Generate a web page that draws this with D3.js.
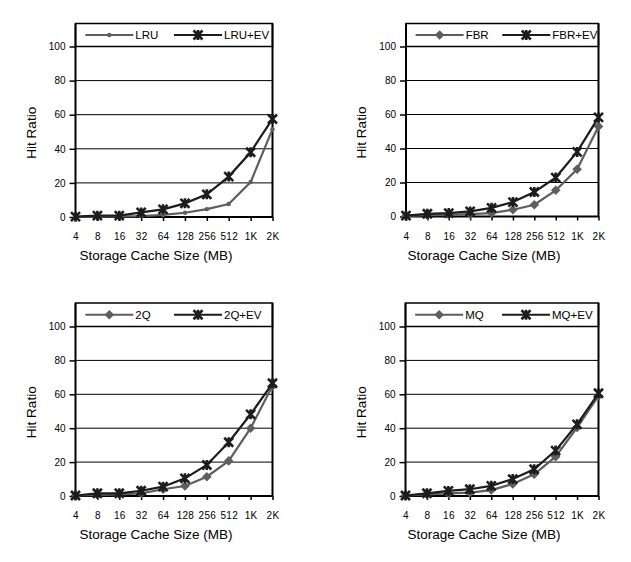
<!DOCTYPE html>
<html>
<head>
<meta charset="utf-8">
<script src="https://cdn.jsdelivr.net/npm/d3@7"></script>
<style>
  html, body { margin: 0; padding: 0; background: #fff; }
  svg { display: block; font-family: "Liberation Sans", Arial, Helvetica, sans-serif; }
</style>
</head>
<body>
<svg id="chart" width="631" height="562"></svg>
<script>
// ---- data ----
const categories = ["4", "8", "16", "32", "64", "128", "256", "512", "1K", "2K"];
const yTicks = [0, 20, 40, 60, 80, 100];

const lruValues    = [0.1, 0.2, 0.3, 0.5, 1.2, 2.5, 4.6, 7.6, 20.5, 51.5];
const lruEvValues  = [0.2, 0.8, 0.8, 2.7, 4.5, 8.0, 13.3, 23.7, 38.0, 57.5];

const fbrValues    = [0.4, 0.8, 1.0, 1.4, 2.0, 4.0, 6.9, 15.4, 27.8, 53.0];
const fbrEvValues  = [0.5, 1.6, 2.0, 3.0, 5.1, 8.5, 14.4, 22.9, 38.0, 58.3];

const q2Values     = [0.3, 0.6, 1.0, 1.6, 4.0, 5.9, 11.4, 20.7, 40.0, 65.0];
const q2EvValues   = [0.3, 1.6, 1.6, 3.1, 5.5, 10.4, 18.3, 31.7, 48.2, 66.5];

const mqValues     = [0.3, 1.0, 1.5, 2.0, 3.5, 7.1, 12.8, 23.2, 40.4, 59.0];
const mqEvValues   = [0.3, 1.6, 3.0, 4.0, 6.0, 10.0, 15.8, 26.8, 42.3, 60.6];

const seriesNames = [["LRU", "LRU+EV"], ["FBR", "FBR+EV"], ["2Q", "2Q+EV"], ["MQ", "MQ+EV"]];
const xTitle = "Storage Cache Size (MB)";
const yTitle = "Hit Ratio";

// ---- layout ----
const panels = [
  { names: seriesNames[0], base: lruValues, ev: lruEvValues, baseMarker: "dot",
    left: 75.5, right: 272.5, y0: 217, y100: 46.5, legTop: 23.5, yLabX: 31.5, xTitleX: 156 },
  { names: seriesNames[1], base: fbrValues, ev: fbrEvValues, baseMarker: "diamond",
    left: 406, right: 598.5, y0: 216.5, y100: 46.5, legTop: 23.5, yLabX: 361.5, xTitleX: 484 },
  { names: seriesNames[2], base: q2Values, ev: q2EvValues, baseMarker: "diamond",
    left: 75.5, right: 272.5, y0: 496, y100: 326.5, legTop: 303, yLabX: 31.5, xTitleX: 156 },
  { names: seriesNames[3], base: mqValues, ev: mqEvValues, baseMarker: "diamond",
    left: 405.5, right: 598.5, y0: 496, y100: 326.5, legTop: 303, yLabX: 361.5, xTitleX: 484 }
];

const GRAY = "#5e5e5e";
const BLACK = "#1c1c1c";

const svg = d3.select("#chart");

function drawMarker(g, type, x, y, color) {
  if (type === "dot") {
    g.append("circle").attr("cx", x).attr("cy", y).attr("r", 2.2).attr("fill", color);
  } else if (type === "diamond") {
    const r = 4.8;
    g.append("path").attr("d", `M0,${-r}L${r},0L0,${r}L${-r},0Z`)
      .attr("transform", `translate(${x},${y})`).attr("fill", color);
  } else if (type === "star") {
    const s = 4.5;
    g.append("path")
      .attr("d", `M${-s},${-s}L${s},${s}M${-s},${s}L${s},${-s}M0,${-s - 0.5}L0,${s + 0.5}`)
      .attr("transform", `translate(${x},${y})`)
      .attr("stroke", color).attr("stroke-width", 2.6).attr("fill", "none");
  }
}

panels.forEach(p => {
  const g = svg.append("g");
  const x = d3.scalePoint().domain(categories).range([p.left, p.right]);
  const y = d3.scaleLinear().domain([0, 100]).range([p.y0, p.y100]);

  // gridlines
  g.append("g").selectAll("line").data(yTicks.filter(t => t > 0)).join("line")
    .attr("x1", p.left).attr("x2", p.right)
    .attr("y1", d => y(d)).attr("y2", d => y(d))
    .attr("stroke", "#000").attr("stroke-width", 1);

  // legend box
  g.append("rect").attr("x", p.left).attr("y", p.legTop)
    .attr("width", p.right - p.left).attr("height", y(100) - p.legTop)
    .attr("fill", "#fff").attr("stroke", "#000").attr("stroke-width", 1.5);

  // y axis
  const yAxis = d3.axisLeft(y).tickValues(yTicks).tickSize(6).tickPadding(4);
  const ya = g.append("g").attr("transform", `translate(${p.left},0)`).call(yAxis);
  ya.select(".domain").remove();
  ya.selectAll(".tick line").attr("stroke", "#000").attr("stroke-width", 1.5);
  ya.selectAll(".tick text").attr("font-size", 10).attr("fill", "#000")
    .attr("font-family", "'Liberation Sans', Arial, sans-serif");

  // x axis
  const xAxis = d3.axisBottom(x).tickSize(4).tickPadding(12);
  const xa = g.append("g").attr("transform", `translate(0,${p.y0})`).call(xAxis);
  xa.select(".domain").remove();
  xa.selectAll(".tick line").attr("stroke", "#000").attr("stroke-width", 1.5);
  xa.selectAll(".tick text").attr("font-size", 10).attr("fill", "#000")
    .attr("letter-spacing", "0.3px")
    .attr("font-family", "'Liberation Sans', Arial, sans-serif");

  // frame lines
  g.append("line").attr("x1", p.left).attr("x2", p.left).attr("y1", p.legTop).attr("y2", p.y0 + 0.5)
    .attr("stroke", "#000").attr("stroke-width", 2);
  g.append("line").attr("x1", p.right).attr("x2", p.right).attr("y1", p.legTop).attr("y2", p.y0 + 0.5)
    .attr("stroke", "#000").attr("stroke-width", 2);
  g.append("line").attr("x1", p.left).attr("x2", p.right).attr("y1", p.y0).attr("y2", p.y0)
    .attr("stroke", "#000").attr("stroke-width", 2);

  // series
  const line = d3.line().x((d, i) => x(categories[i])).y(d => y(d));
  g.append("path").datum(p.base).attr("d", line)
    .attr("fill", "none").attr("stroke", GRAY).attr("stroke-width", 2.2);
  p.base.forEach((v, i) => drawMarker(g, p.baseMarker, x(categories[i]), y(v), GRAY));
  g.append("path").datum(p.ev).attr("d", line)
    .attr("fill", "none").attr("stroke", BLACK).attr("stroke-width", 2.2);
  p.ev.forEach((v, i) => drawMarker(g, "star", x(categories[i]), y(v), BLACK));

  // legend entries
  const ly = (p.legTop + y(100)) / 2;
  const w = p.right - p.left;
  const e1 = p.left + w * 0.05, e2 = p.left + w * 0.5;
  const L = 48;
  [[e1, GRAY, p.baseMarker, p.names[0]], [e2, BLACK, "star", p.names[1]]].forEach(([sx, c, m, name]) => {
    g.append("line").attr("x1", sx).attr("x2", sx + L).attr("y1", ly).attr("y2", ly)
      .attr("stroke", c).attr("stroke-width", 2.2);
    drawMarker(g, m, sx + L / 2, ly, c);
    g.append("text").attr("x", sx + L + 2).attr("y", ly).attr("dy", "0.36em")
      .attr("font-size", 11.5).attr("fill", "#000").text(name);
  });

  // axis titles
  g.append("text").attr("x", p.xTitleX).attr("y", p.y0 + 43)
    .attr("text-anchor", "middle").attr("font-size", 13.5).attr("fill", "#000").text(xTitle);
  g.append("text").attr("transform", `translate(${p.yLabX},${(p.y0 + p.y100) / 2 + 1}) rotate(-90)`)
    .attr("text-anchor", "middle").attr("dy", "0.36em")
    .attr("font-size", 13.5).attr("fill", "#000").text(yTitle);
});
</script>
</body>
</html>
